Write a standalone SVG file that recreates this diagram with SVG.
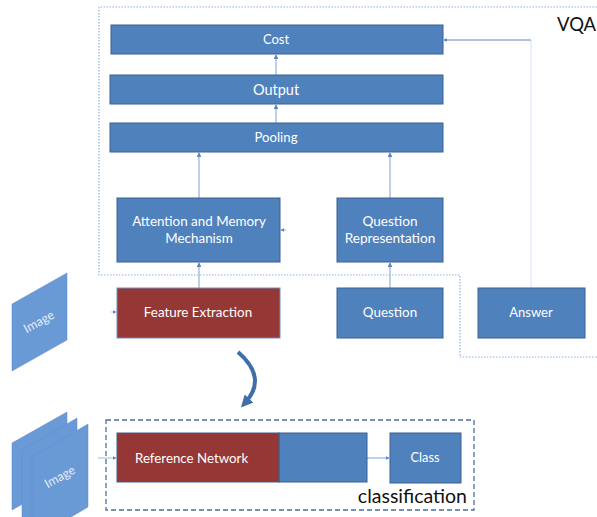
<svg xmlns="http://www.w3.org/2000/svg" width="597" height="517" viewBox="0 0 597 517">
<defs>
<style>
.box{fill:#4f81bd;stroke:#3a6190;stroke-width:1}
.red{fill:#953735;stroke:#6f8fbf;stroke-width:1}
.img{fill:#6a9ad6;stroke:#5b8bc8;stroke-width:0.5}
.t{font-family:Lato,"Liberation Sans",sans-serif;fill:#ffffff;text-anchor:middle}
.lbl{font-family:Lato,"Liberation Sans",sans-serif;fill:#111111}
.c{fill:none;stroke:#8fb0dc;stroke-width:1.2}
.cd{fill:none;stroke:#5b87c0;stroke-width:1}
</style>
<marker id="ah" viewBox="0 0 6 6" refX="5" refY="3" markerWidth="4" markerHeight="4" orient="auto">
<path d="M0,0 L6,3 L0,6 z" fill="#5b87c0"/>
</marker>
<marker id="big" viewBox="0 0 10 10" refX="5" refY="5" markerWidth="3" markerHeight="3" orient="auto">
<path d="M0,0 L10,5 L0,10 z" fill="#3f6ea8"/>
</marker>
</defs>

<g id="vqa-boundary">
<path d="M597,7 L99,7 L99,275 L460,275 L460,357 L597,357" fill="none" stroke="#8fb0dc" stroke-width="1.2" stroke-dasharray="1.5,1.5"/>
<text class="lbl" x="557" y="31" font-size="18.5">VQA</text>
</g>

<g id="classification-boundary">
<rect x="106" y="420" width="368" height="90" fill="none" stroke="#4a70a0" stroke-width="1.3" stroke-dasharray="5,3"/>
<text class="lbl" x="467" y="503" font-size="19.5" text-anchor="end">classification</text>
</g>

<g id="connectors">
<line class="c" x1="276" y1="104" x2="276" y2="55" marker-end="url(#ah)"/>
<line class="c" x1="276" y1="123" x2="276" y2="105" marker-end="url(#ah)"/>
<line class="c" x1="199" y1="198" x2="199" y2="153" marker-end="url(#ah)"/>
<line class="c" x1="390" y1="198" x2="390" y2="153" marker-end="url(#ah)"/>
<line class="c" x1="199" y1="288" x2="199" y2="263" marker-end="url(#ah)"/>
<line class="c" x1="390" y1="288" x2="390" y2="263" marker-end="url(#ah)"/>
<polyline fill="none" stroke="#d6e2f0" stroke-width="1" points="531,288 531,40"/>
<line class="cd" x1="531" y1="40" x2="444" y2="40" marker-end="url(#ah)"/>
<line stroke="#b9cfea" stroke-width="1" x1="111" y1="312" x2="116" y2="312" marker-end="url(#ah)"/>
<line stroke="#8fb0dc" stroke-width="1" x1="286" y1="230" x2="281" y2="230" marker-end="url(#ah)"/>
<line stroke="#9dbde3" stroke-width="1" x1="98" y1="458" x2="116" y2="458" marker-end="url(#ah)"/>
<line stroke="#7fa3d0" stroke-width="1" x1="367" y1="458" x2="389" y2="458" marker-end="url(#ah)"/>
<path d="M238,352 Q268,378 245,403" fill="none" stroke="#3f6ea8" stroke-width="4" marker-end="url(#big)"/>
</g>

<g id="cost"><rect class="box" x="111" y="25" width="332" height="29"/><text class="t" x="276" y="44" font-size="13">Cost</text></g>
<g id="output"><rect class="box" x="110" y="75" width="333" height="29"/><text class="t" x="276" y="95" font-size="14.5">Output</text></g>
<g id="pooling"><rect class="box" x="110" y="123" width="333" height="29"/><text class="t" x="276" y="142" font-size="13.2">Pooling</text></g>
<g id="attention"><rect class="box" x="117" y="198" width="163" height="64"/><text class="t" x="199" y="226" font-size="13.4">Attention and Memory</text><text class="t" x="199" y="243" font-size="13.4">Mechanism</text></g>
<g id="question-representation"><rect class="box" x="337" y="198" width="106" height="64"/><text class="t" x="390" y="226" font-size="13.6">Question</text><text class="t" x="390" y="243" font-size="13.6">Representation</text></g>
<g id="feature-extraction"><rect class="red" x="117" y="288" width="163" height="50"/><text class="t" x="198" y="317" font-size="13.4">Feature Extraction</text></g>
<g id="question"><rect class="box" x="337" y="288" width="106" height="50"/><text class="t" x="390" y="317" font-size="13.4">Question</text></g>
<g id="answer"><rect class="box" x="478" y="288" width="107" height="50"/><text class="t" x="531" y="317" font-size="13">Answer</text></g>

<g id="image">
<polygon class="img" points="12,304 67,273 67,340 12,371"/>
<text class="t" x="39" y="326" font-size="12.5" fill-opacity="0.85" transform="rotate(-29 39 322)">Image</text>
</g>

<g id="image-stack">
<polygon class="img" points="12,443 67,412 67,479 12,510"/>
<polygon class="img" points="22,450 77,418 77,495 22,527"/>
<polygon class="img" points="32,457 88,424 88,507 32,540"/>
<text class="t" x="60" y="481" font-size="12.5" fill-opacity="0.85" transform="rotate(-29 60 477)">Image</text>
</g>

<g id="reference-network">
<rect x="279" y="433" width="88" height="49" fill="#4f81bd" stroke="#3a6190" stroke-width="1"/>
<rect x="117" y="433" width="162" height="49" fill="#953735" stroke="#3a6190" stroke-width="1"/>
<text class="t" x="135" y="463" font-size="13.3" style="text-anchor:start">Reference Network</text>
</g>
<g id="class"><rect class="box" x="390" y="433" width="71" height="50"/><text class="t" x="425" y="462" font-size="12.8">Class</text></g>
</svg>
